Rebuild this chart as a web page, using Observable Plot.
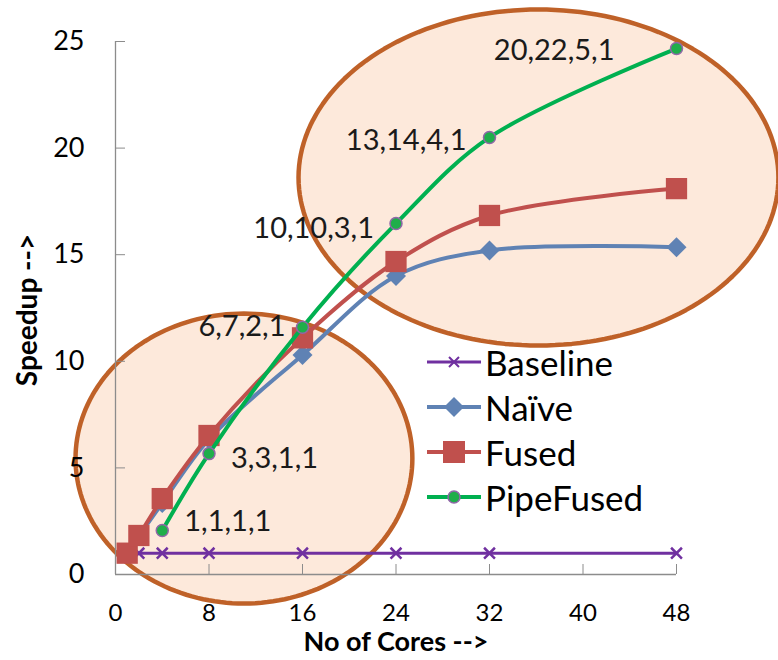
<!DOCTYPE html>
<html><head><meta charset="utf-8">
<script src="https://cdn.jsdelivr.net/npm/d3@7"></script>
<script src="https://cdn.jsdelivr.net/npm/@observablehq/plot@0.6"></script>
<style>
body{margin:0;background:#fff;}
#wrap{position:relative;width:778px;height:660px;font-family:Lato,sans-serif;}
#legend{position:absolute;left:427px;top:339px;}
.row{display:flex;align-items:center;height:45px;font-size:35px;color:#000;}
.row svg{margin-right:4px;}
</style></head><body><div id="wrap"></div>
<script>
// ---- data ----
const cores = [1, 2, 4, 8, 16, 24, 32, 48];
const baseline = [1, 1, 1, 1, 1, 1, 1, 1];
const naive = [1, 1.8, 3.35, 6.35, 10.3, 14.0, 15.2, 15.35];
const fused = [1, 1.83, 3.56, 6.52, 11.1, 14.68, 16.84, 18.1];
const pipeCores = [4, 8, 16, 24, 32, 48];
const pipeFused = [2.06, 5.67, 11.6, 16.46, 20.5, 24.67];
const pipeLabels = ["1,1,1,1", "3,3,1,1", "6,7,2,1", "10,10,3,1", "13,14,4,1", "20,22,5,1"];
const xTicks = [0, 8, 16, 24, 32, 40, 48];
const yTicks = [0, 5, 10, 15, 20, 25];
const seriesNames = ["Baseline", "Naïve", "Fused", "PipeFused"];
// highlight ellipses in data units
const ellipseCx = [10.99, 36.19];
const ellipseCy = [5.44, 18.62];
const ellipseRx = [14.41, 20.53];
const ellipseRy = [6.80, 7.88];

// ---- styles ----
const colors = {Baseline: "#7030a0", "Naïve": "#5f82b4", Fused: "#c0504d", PipeFused: "#00b050"};
const labelOffsets = [
  {anchor: "start", dx: 22, dy: -9},
  {anchor: "start", dx: 22, dy: 5},
  {anchor: "end", dx: -17, dy: 0},
  {anchor: "end", dx: -22, dy: 5},
  {anchor: "end", dx: -23, dy: 3},
  {anchor: "end", dx: -62, dy: 2}
];

// ---- tables ----
const rows = cores.map((c, i) => ({c, baseline: baseline[i], naive: naive[i], fused: fused[i]}));
const pipeRows = pipeCores.map((c, i) => ({c, v: pipeFused[i], label: pipeLabels[i]}));
const ellipsePts = [];
ellipseCx.forEach((cx, e) => {
  for (let k = 0; k < 180; k++) {
    const t = (k / 180) * 2 * Math.PI;
    ellipsePts.push({e, x: cx + ellipseRx[e] * Math.cos(t), y: ellipseCy[e] + ellipseRy[e] * Math.sin(t)});
  }
});

const font = "Lato, sans-serif";
const chart = Plot.plot({
  width: 778,
  height: 660,
  marginLeft: 115,
  marginRight: 102,
  marginTop: 41,
  marginBottom: 86,
  style: {fontFamily: font, background: "transparent", overflow: "visible"},
  x: {domain: [0, 48], axis: null},
  y: {domain: [0, 25], axis: null},
  marks: [
    Plot.line(ellipsePts, {x: "x", y: "y", z: "e", curve: "linear-closed", fill: "#fde9db", stroke: "#bf6128", strokeWidth: 4.5}),
    Plot.ruleX([0], {stroke: "#8c8c8c", strokeWidth: 1.3}),
    Plot.ruleY([0], {stroke: "#8c8c8c", strokeWidth: 1.3}),
    Plot.axisY(yTicks, {tickSize: -10, tickPadding: 41, stroke: "#8c8c8c", fill: "#000", fontSize: 27, label: null}),
    Plot.axisX(xTicks, {tickSize: -10, tickPadding: 39, stroke: "#8c8c8c", fill: "#000", fontSize: 24, label: null}),
    Plot.text(["No of Cores -->"], {frameAnchor: "bottom", textAnchor: "middle", dy: 76, fontSize: 27, fontWeight: "bold", fill: "#000"}),
    Plot.text(["Speedup -->"], {frameAnchor: "left", textAnchor: "middle", dx: -87, dy: 2, rotate: -90, fontSize: 28, fontWeight: "bold", fill: "#000"}),
    // Baseline
    Plot.line(rows, {x: "c", y: "baseline", stroke: colors.Baseline, strokeWidth: 3}),
    Plot.dot(rows, {x: "c", y: "baseline", symbol: "times", r: 5, stroke: colors.Baseline, strokeWidth: 2.5}),
    // Naive
    Plot.line(rows, {x: "c", y: "naive", stroke: colors["Naïve"], strokeWidth: 4, curve: "catmull-rom"}),
    Plot.dot(rows, {x: "c", y: "naive", symbol: "diamond2", r: 9, fill: colors["Naïve"], stroke: "none"}),
    // Fused
    Plot.line(rows, {x: "c", y: "fused", stroke: colors.Fused, strokeWidth: 4, curve: "catmull-rom"}),
    Plot.dot(rows, {x: "c", y: "fused", symbol: "square", r: 12, fill: colors.Fused, stroke: "none"}),
    // PipeFused
    Plot.line(pipeRows, {x: "c", y: "v", stroke: colors.PipeFused, strokeWidth: 4, curve: "catmull-rom"}),
    Plot.dot(pipeRows, {x: "c", y: "v", r: 6, fill: "#1fae4a", stroke: "#9067a8", strokeWidth: 1.5}),
    ...pipeRows.map((d, i) => Plot.text([d], {
      x: "c", y: "v", text: "label",
      textAnchor: labelOffsets[i].anchor, dx: labelOffsets[i].dx, dy: labelOffsets[i].dy,
      fontSize: 29, fill: "#1a1a1a"
    }))
  ]
});

const wrap = document.getElementById("wrap");
wrap.appendChild(chart);

// legend
const legend = document.createElement("div");
legend.id = "legend";
const markerSvg = {
  Baseline: `<path d="M22,-5 L32,5 M22,5 L32,-5" stroke="${colors.Baseline}" stroke-width="2" fill="none"/>`,
  "Naïve": `<path d="M27,-10 L37,0 L27,10 L17,0 Z" fill="${colors["Naïve"]}"/>`,
  Fused: `<rect x="16" y="-11" width="22" height="22" fill="${colors.Fused}"/>`,
  PipeFused: `<circle cx="27" cy="0" r="6" fill="#1fae4a" stroke="#9067a8" stroke-width="1.5"/>`
};
const lineW = {Baseline: 3, "Naïve": 4, Fused: 4, PipeFused: 4};
seriesNames.forEach(name => {
  const row = document.createElement("div");
  row.className = "row";
  row.innerHTML = `<svg width="54" height="30" viewBox="0 -15 54 30"><line x1="0" x2="54" y1="0" y2="0" stroke="${colors[name]}" stroke-width="${lineW[name]}"/>${markerSvg[name]}</svg><span>${name}</span>`;
  legend.appendChild(row);
});
wrap.appendChild(legend);
</script>
</body></html>
